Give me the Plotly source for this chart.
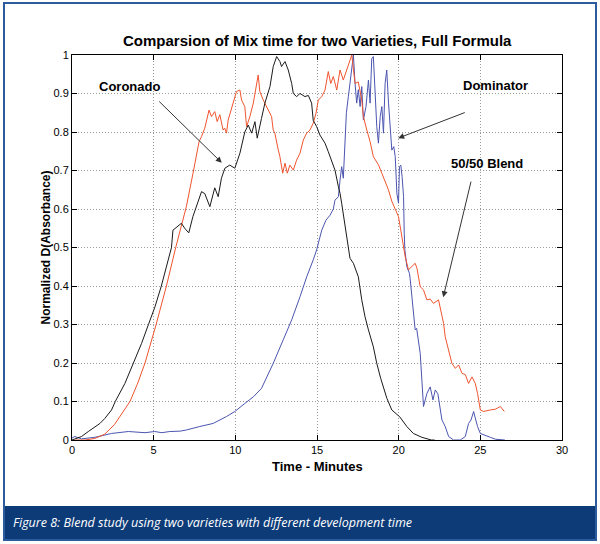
import plotly.graph_objects as go

# ---- data ----
coronado_x = [0.0, 0.17, 0.58, 1.0, 1.4, 1.71, 2.01, 2.42, 2.65, 3.24, 3.76, 4.26, 4.68, 5.08, 5.47, 6.09,
              6.18, 6.45, 6.7, 6.9, 7.15, 7.4, 7.62, 7.93, 8.13, 8.3, 8.44, 8.74, 8.95, 9.15, 9.36, 9.66,
              9.97, 10.28, 10.58, 10.79, 11.0, 11.2, 11.34, 11.6, 11.81, 12.12, 12.32, 12.53, 12.73, 12.83,
              13.04, 13.24, 13.45, 13.55, 13.75, 13.96, 14.26, 14.47, 14.67, 14.77, 14.98, 15.18, 15.49,
              15.69, 15.9, 16.1, 16.31, 16.41, 16.51, 16.66, 16.92, 17.02, 17.23, 17.53, 17.74, 17.94,
              18.15, 18.45, 18.66, 18.9, 19.28, 19.58, 20.07, 20.5, 20.9, 21.42, 22.0, 22.2]
coronado_y = [0.0, 0.003, 0.009, 0.022, 0.035, 0.043, 0.056, 0.078, 0.1, 0.147, 0.2, 0.251, 0.3, 0.346, 0.4, 0.5,
              0.545, 0.555, 0.563, 0.55, 0.538, 0.58, 0.606, 0.645, 0.64, 0.62, 0.606, 0.655, 0.632, 0.68, 0.706, 0.714,
              0.706, 0.745, 0.80, 0.818, 0.797, 0.827, 0.784, 0.835, 0.875, 0.918, 0.97, 0.996, 0.983, 0.97,
              0.983, 0.961, 0.926, 0.90, 0.892, 0.90, 0.892, 0.895, 0.875, 0.83, 0.814, 0.792, 0.771,
              0.749, 0.723, 0.701, 0.658, 0.641, 0.615, 0.571, 0.494, 0.472, 0.459, 0.424, 0.364, 0.32,
              0.286, 0.242, 0.199, 0.16, 0.108, 0.078, 0.06, 0.035, 0.017, 0.007, 0.0, 0.0]

blend_x = [0.2, 0.8, 1.4, 2.0, 2.6, 3.0, 3.55, 4.0, 4.47, 5.15, 5.78, 6.35, 6.64, 7.0, 7.41, 7.78, 7.93, 8.13,
           8.39, 8.54, 8.74, 8.89, 9.05, 9.25, 9.35, 9.46, 9.56, 9.87, 10.07, 10.28, 10.38, 10.58, 10.69,
           10.89, 11.1, 11.4, 11.5, 11.71, 11.91, 12.12, 12.22, 12.32, 12.42, 12.63, 12.73, 12.9, 13.04,
           13.18, 13.34, 13.55, 13.75, 13.96, 14.16, 14.37, 14.57, 14.77, 14.94, 15.08, 15.29, 15.49,
           15.69, 15.84, 16.0, 16.21, 16.41, 16.61, 16.82, 17.02, 17.13, 17.33, 17.53, 17.74, 17.84,
           18.05, 18.25, 18.45, 18.76, 18.97, 19.17, 19.38, 19.58, 19.79, 19.99, 20.13, 20.3, 20.4, 20.6,
           20.81, 21.01, 21.12, 21.32, 21.52, 21.73, 21.93, 22.13, 22.44, 22.55, 22.75, 22.85, 23.06,
           23.26, 23.47, 23.67, 23.88, 24.08, 24.28, 24.49, 24.69, 24.83, 25.0, 25.2, 25.6, 25.92,
           26.23, 26.47]
blend_y = [0.0, 0.0, 0.004, 0.015, 0.04, 0.065, 0.1, 0.145, 0.2, 0.3, 0.4, 0.5, 0.545, 0.606, 0.693, 0.775, 0.788, 0.81,
           0.857, 0.84, 0.853, 0.827, 0.845, 0.805, 0.81, 0.797, 0.831, 0.875, 0.905, 0.909, 0.883, 0.866, 0.814,
           0.84, 0.875, 0.948, 0.905, 0.883, 0.866, 0.845, 0.84, 0.805, 0.797, 0.753, 0.736, 0.693, 0.719,
           0.693, 0.714, 0.701, 0.727, 0.745, 0.779, 0.797, 0.805, 0.823, 0.849, 0.883, 0.892, 0.909,
           0.957, 0.926, 0.944, 0.909, 0.961, 0.935, 0.961, 0.987, 1.0, 0.926, 0.93, 0.883, 0.84,
           0.805, 0.775, 0.736, 0.715, 0.693, 0.671, 0.649, 0.62, 0.6, 0.58, 0.545, 0.5, 0.476, 0.442,
           0.45, 0.459, 0.446, 0.398, 0.39, 0.364, 0.366, 0.355, 0.364, 0.342, 0.303, 0.268, 0.234,
           0.199, 0.186, 0.195, 0.173, 0.17, 0.147, 0.164, 0.147, 0.121, 0.078, 0.074, 0.078, 0.08,
           0.087, 0.074]

dominator_x = [0.0, 0.17, 0.58, 1.4, 2.42, 3.45, 4.47, 5.06, 5.5, 5.98, 6.62, 7.0, 7.82, 8.64, 9.46, 9.97,
               10.58, 11.1, 11.6, 12.32, 12.93, 13.45, 13.96, 14.37, 14.77, 14.98, 15.29, 15.55, 15.8, 16.0,
               16.1, 16.31, 16.41, 16.51, 16.61, 16.72, 16.8, 16.92, 17.02, 17.13, 17.23, 17.33, 17.43,
               17.53, 17.64, 17.74, 17.84, 18.0, 18.15, 18.25, 18.35, 18.45, 18.56, 18.66, 18.76, 18.87,
               18.97, 19.07, 19.17, 19.27, 19.38, 19.48, 19.58, 19.7, 19.79, 19.89, 19.99, 20.05, 20.13,
               20.21, 20.3, 20.34, 20.38, 20.5, 20.66, 20.7, 20.81, 20.91, 21.01, 21.1, 21.22, 21.32,
               21.42, 21.52, 21.73, 21.93, 22.1, 22.24, 22.4, 22.5, 22.65, 22.85, 23.06, 23.36, 23.77,
               24.08, 24.28, 24.43, 24.59, 24.69, 24.83, 25.0, 25.3, 25.61, 25.92, 26.23, 26.5]
dominator_y = [0.005, 0.009, 0.003, 0.007, 0.017, 0.022, 0.019, 0.022, 0.019, 0.022, 0.023, 0.026, 0.035, 0.043, 0.061, 0.074,
               0.095, 0.112, 0.134, 0.199, 0.26, 0.312, 0.372, 0.424, 0.468, 0.494, 0.545, 0.571, 0.584, 0.6,
               0.623, 0.632, 0.675, 0.71, 0.68, 0.788, 0.85, 0.892, 0.926, 0.97, 1.0, 0.926, 0.875,
               0.91, 0.866, 0.918, 0.831, 0.866, 0.935, 0.875, 0.99, 0.996, 0.90, 0.814, 0.771, 0.84,
               0.866, 0.797, 0.926, 0.961, 0.875, 0.797, 0.753, 0.762, 0.736, 0.641, 0.615, 0.71, 0.714,
               0.684, 0.632, 0.537, 0.494, 0.45, 0.433, 0.42, 0.372, 0.329, 0.286, 0.29, 0.26, 0.225,
               0.156, 0.087, 0.121, 0.138, 0.104, 0.13, 0.12, 0.087, 0.052, 0.035, 0.009, 0.0, 0.0,
               0.009, 0.043, 0.052, 0.074, 0.057, 0.035, 0.017, 0.013, 0.007, 0.002, 0.0, 0.0]

x_ticks = [0, 5, 10, 15, 20, 25, 30]
x_tick_labels = ["0", "5", "10", "15", "20", "25", "30"]
y_ticks = [0, 0.1, 0.2, 0.3, 0.4, 0.5, 0.6, 0.7, 0.8, 0.9, 1]
y_tick_labels = ["0", "0.1", "0.2", "0.3", "0.4", "0.5", "0.6", "0.7", "0.8", "0.9", "1"]

title_text = "Comparsion of Mix time for two Varieties, Full Formula"
x_title = "Time - Minutes"
y_title = "Normalized D(Absorbance)"
caption = "Figure 8: Blend study using two varieties with different development time"

FONT = "Liberation Sans, Arial, Helvetica, sans-serif"

fig = go.Figure()
fig.add_trace(go.Scatter(x=dominator_x, y=dominator_y, mode="lines", name="Dominator",
                         line=dict(color="#4b55b0", width=1)))
fig.add_trace(go.Scatter(x=blend_x, y=blend_y, mode="lines", name="50/50 Blend",
                         line=dict(color="#f0542e", width=1)))
fig.add_trace(go.Scatter(x=coronado_x, y=coronado_y, mode="lines", name="Coronado",
                         line=dict(color="#1a1a1a", width=1)))

axis_common = dict(showgrid=True, gridcolor="#9a9a9a", griddash="1px,2px", gridwidth=1,
                   showline=True, linecolor="black", linewidth=1, mirror="ticks",
                   ticks="inside", ticklen=5, tickcolor="black", zeroline=False,
                   tickfont=dict(family=FONT, size=11, color="black"))

fig.update_xaxes(range=[0, 30], tickvals=x_ticks, ticktext=x_tick_labels, **axis_common)
fig.update_yaxes(range=[0, 1], tickvals=y_ticks, ticktext=y_tick_labels, **axis_common)

L, R, T, B = 72, 38, 55, 104
W, H = 600, 544
PW, PH = W - L - R, H - T - B


def px(xp):
    return (xp - L) / PW


def py(yp):
    return (H - B - yp) / PH


shapes = [
    dict(type="rect", xref="paper", yref="paper", x0=px(4), x1=px(596), y0=py(506), y1=py(540),
         fillcolor="#0d3b78", line=dict(width=0), layer="below"),
    dict(type="rect", xref="paper", yref="paper", x0=px(4), x1=px(596), y0=py(3), y1=py(540),
         fillcolor="rgba(0,0,0,0)", line=dict(color="#2d5c9c", width=2)),
]

annotations = [
    dict(xref="paper", yref="paper", x=px(317), y=py(41), text="<b>" + title_text + "</b>", showarrow=False,
         font=dict(family=FONT, size=15, color="black"), xanchor="center", yanchor="middle"),
    dict(xref="paper", yref="paper", x=0.5, y=py(466), text="<b>" + x_title + "</b>", showarrow=False,
         font=dict(family=FONT, size=13, color="black"), xanchor="center", yanchor="middle"),
    dict(xref="paper", yref="paper", x=px(45), y=0.5, text="<b>" + y_title + "</b>", showarrow=False,
         textangle=-90, font=dict(family=FONT, size=12, color="black"), xanchor="center", yanchor="middle"),
    dict(xref="paper", yref="paper", x=px(11), y=py(522), text="<i>" + caption + "</i>", showarrow=False,
         font=dict(family="Open Sans, sans-serif", size=12.5, color="white"), xanchor="left", yanchor="middle"),
    # labels
    dict(x=3.5, y=0.919, text="<b>Coronado</b>", showarrow=False,
         font=dict(family=FONT, size=13, color="black")),
    dict(x=25.95, y=0.922, text="<b>Dominator</b>", showarrow=False,
         font=dict(family=FONT, size=13, color="black")),
    dict(x=25.43, y=0.719, text="<b>50/50 Blend</b>", showarrow=False,
         font=dict(family=FONT, size=13, color="black")),
    # arrows
    dict(x=9.17, y=0.72, ax=5.25, ay=0.883, axref="x", ayref="y", text="", showarrow=True,
         arrowhead=2, arrowsize=1.2, arrowwidth=1, arrowcolor="#333333"),
    dict(x=19.97, y=0.784, ax=24.14, ay=0.852, axref="x", ayref="y", text="", showarrow=True,
         arrowhead=2, arrowsize=1.2, arrowwidth=1, arrowcolor="#333333"),
    dict(x=22.73, y=0.371, ax=24.45, ay=0.675, axref="x", ayref="y", text="", showarrow=True,
         arrowhead=2, arrowsize=1.2, arrowwidth=1, arrowcolor="#333333"),
]

fig.update_layout(width=W, height=H, margin=dict(l=L, r=R, t=T, b=B),
                  paper_bgcolor="white", plot_bgcolor="white", showlegend=False,
                  shapes=shapes, annotations=annotations,
                  font=dict(family=FONT, size=11, color="black"))

fig.write_html("out.html", config={"displayModeBar": False},
               post_script="document.body.style.margin='0';")
